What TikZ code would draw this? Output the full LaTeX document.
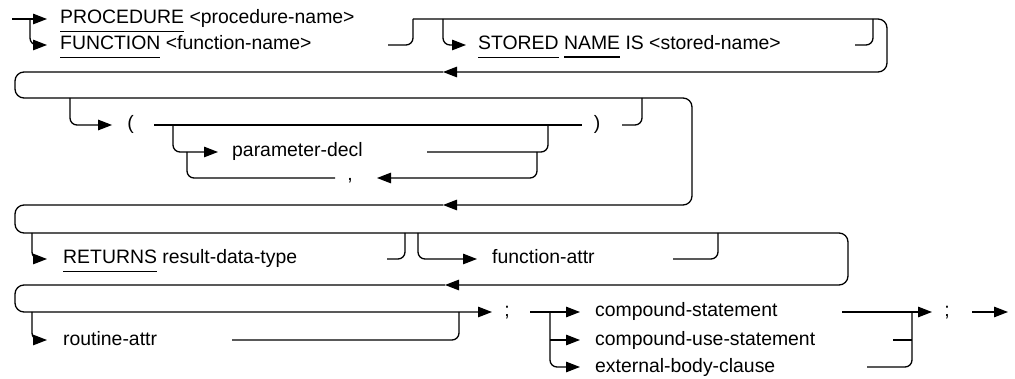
\documentclass[tikz,border=0pt]{standalone}
\usepackage{fontspec}
\setmainfont{Liberation Sans}
\usetikzlibrary{arrows.meta}
\newcommand\kw[1]{\vtop{\hbox{#1}\kern6.5pt\hrule height 1.2pt}}
\tikzset{
  ln/.style={line width=1.3pt, rounded corners=7pt},
  brk/.style={line width=1.3pt, rounded corners=9pt},
  arr/.style={-{Triangle[length=14pt,width=10.5pt]}},
  txt/.style={anchor=west, inner sep=0pt, text height=14pt, text depth=4pt, font=\fontsize{19.4}{23}\selectfont},
  sym/.style={anchor=center, inner sep=0pt, text height=14pt, text depth=4pt, font=\fontsize{19.4}{23}\selectfont},
}
\begin{document}
\begin{tikzpicture}[x=1pt,y=-1pt]
\useasboundingbox (0,0) rectangle (1015,379);
% ---------- Row 1 ----------
\node[txt] (proc) at (60,19) {\kw{PROCEDURE} <procedure-name>};
\node[txt] (func) at (60,45) {\kw{FUNCTION} <function-name>};
\node[txt] (stored) at (478,45) {\kw{STORED} \kw{NAME} IS <stored-name>};
\coordinate (s1) at (12,19);
\coordinate (b1) at (30,19);
\coordinate (fe) at (388,45);
\coordinate (m1) at (413,19);
\coordinate (b2) at (443,19);
\coordinate (se) at (855,45);
\coordinate (m2) at (873,19);
\coordinate (rb1) at (887,72);
\coordinate (a1) at (443,72);
\draw[ln,arr] (s1) -- ([xshift=-13pt]proc.west);
\draw[ln,arr] (b1) |- ([xshift=-13pt]func.west);
\draw[ln] (fe) -| (m1);
\draw[ln,arr] (b2) |- ([xshift=-12pt]stored.west);
\draw[ln] (se) -| (m2);
\draw[brk,arr] (m1) -| (rb1) -- (a1);
% ---------- Row 2 ----------
\coordinate (a2) at (443,205);
\draw[brk,arr] (a1) -- (15,72) -- (15,98) -- (692,98) -- (692,205) -- (a2);
\node[sym] (lp) at (130.5,125) {(};
\node[sym] (rp) at (597,125) {)};
\node[txt] (pdecl) at (232,152) {parameter-decl};
\node[sym] (comma) at (350,176) {,};
\coordinate (b3) at (70,98);
\coordinate (p1) at (154,125);
\coordinate (p2) at (582,125);
\coordinate (b4) at (173,125);
\coordinate (pe) at (427,152);
\coordinate (m3) at (548,125);
\coordinate (lpb) at (537,152);
\coordinate (ca) at (377,178);
\coordinate (cl) at (335,178);
\coordinate (lpt) at (187,152);
\coordinate (re) at (622,125);
\coordinate (m4) at (642,98);
\draw[ln,arr] (b3) |- ([xshift=-15pt]lp.west);
\draw[ln] (p1) -- (p2);
\draw[ln,arr] (b4) |- ([xshift=-14pt]pdecl.west);
\draw[ln] (pe) -| (m3);
\draw[ln,arr] (lpb) |- (ca);
\draw[ln] (cl) -| (lpt);
\draw[ln] (re) -| (m4);
% ---------- Row 3 ----------
\coordinate (a3) at (445,285);
\draw[brk,arr] (a2) -- (15,205) -- (15,233) -- (848,233) -- (848,285) -- (a3);
\node[txt] (ret) at (63,259) {\kw{RETURNS} result-data-type};
\node[txt] (fattr) at (492,259) {function-attr};
\coordinate (b5) at (32,233);
\coordinate (rte) at (387,259);
\coordinate (m5) at (405,233);
\coordinate (b6) at (418,233);
\coordinate (fae) at (673,259);
\coordinate (m6) at (718,233);
\draw[ln,arr] (b5) |- ([xshift=-16pt]ret.west);
\draw[ln] (rte) -| (m5);
\draw[ln,arr] (b6) |- ([xshift=-15pt]fattr.west);
\draw[ln] (fae) -| (m6);
% ---------- Row 4 ----------
\node[sym] (semi1) at (507,312) {;};
\node[txt] (rattr) at (63,340) {routine-attr};
\node[txt] (cs) at (595,312) {compound-statement};
\node[txt] (cus) at (595,340) {compound-use-statement};
\node[txt] (ebc) at (595,367) {external-body-clause};
\node[sym] (semi2) at (947,312) {;};
\coordinate (a4) at (492,312);
\draw[brk,arr] (a3) -- (15,285) -- (15,312) -- (a4);
\coordinate (b7) at (32,312);
\coordinate (rae) at (232,340);
\coordinate (m7) at (459,312);
\draw[ln,arr] (b7) |- ([xshift=-16pt]rattr.west);
\draw[ln] (rae) -| (m7);
\coordinate (c0) at (530,312);
\coordinate (b8) at (550,312);
\coordinate (b9) at (550,340);
\draw[ln,arr] (c0) -- ([xshift=-15pt]cs.west);
\draw[ln,arr] (b9) -- ([xshift=-15pt]cus.west);
\draw[ln,arr] (b8) |- ([xshift=-15pt]ebc.west);
\coordinate (cse) at (842,312);
\coordinate (a5) at (932,312);
\coordinate (cue) at (893,340);
\coordinate (j1) at (912,340);
\coordinate (ebe) at (867,367);
\coordinate (m8) at (912,312);
\draw[ln,arr] (cse) -- (a5);
\draw[ln] (cue) -- (j1);
\draw[ln] (ebe) -| (m8);
\coordinate (f0) at (972,312);
\coordinate (f1) at (1008,312);
\draw[ln,arr] (f0) -- (f1);
\end{tikzpicture}
\end{document}
